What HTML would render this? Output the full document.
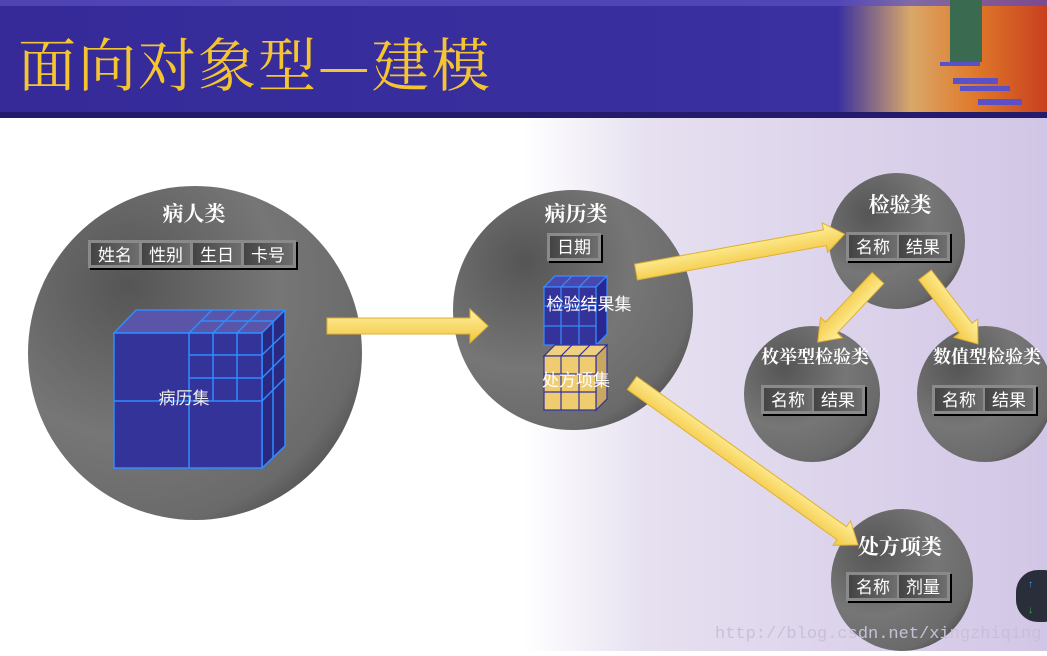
<!DOCTYPE html>
<html><head><meta charset="utf-8"><style>
body{margin:0;width:1047px;height:651px;overflow:hidden;font-family:"Liberation Serif","Noto Serif CJK SC",serif}
</style></head><body>
<svg width="1047" height="651" viewBox="0 0 1047 651" xmlns="http://www.w3.org/2000/svg">
<defs>
<linearGradient id="bg" x1="0" x2="1" y1="0" y2="0">
<stop offset="0" stop-color="#fff"/><stop offset="0.5" stop-color="#fff"/><stop offset="0.62" stop-color="#e6e0f0"/><stop offset="1" stop-color="#d2c6e6"/></linearGradient>
<radialGradient id="cg" cx="0.3" cy="0.3" r="0.9">
<stop offset="0" stop-color="#555"/><stop offset="0.5" stop-color="#767676"/><stop offset="0.8" stop-color="#6a6a6a"/><stop offset="1" stop-color="#3a3a3a"/></radialGradient>
<linearGradient id="hd" x1="0" x2="1"><stop offset="0" stop-color="#352a98"/><stop offset="0.8" stop-color="#3a30a0"/><stop offset="0.87" stop-color="#d9a86a"/><stop offset="0.93" stop-color="#e07a2a"/><stop offset="1" stop-color="#c84020"/></linearGradient>
<linearGradient id="cell" x1="0" x2="1"><stop offset="0" stop-color="#444"/><stop offset="1" stop-color="#6e6e6e"/></linearGradient>
<linearGradient id="ar" x1="0" x2="0" y1="0" y2="1"><stop offset="0" stop-color="#fff2a0"/><stop offset="1" stop-color="#f2c640"/></linearGradient>
</defs>
<rect width="1047" height="651" fill="url(#bg)"/>
<rect width="1047" height="118" fill="url(#hd)"/>
<rect y="0" width="1047" height="6" fill="#5a50c0" opacity="0.7"/>
<rect y="112" width="1047" height="6" fill="#241c6a"/>
<rect x="950" y="0" width="32" height="62" fill="#3a6a50"/>
<rect x="940" y="62" width="40" height="4" fill="#5a50c8"/>
<rect x="953" y="78" width="45" height="6" fill="#5a50c8"/>
<rect x="960" y="86" width="50" height="5" fill="#5a50c8"/>
<rect x="978" y="99" width="44" height="6" fill="#5a50c8"/>
<text x="18" y="86" font-size="58" letter-spacing="2" fill="#f5c531" font-family="'Noto Serif CJK SC',serif">面向对象型—建模</text>

<g fill="url(#cg)">
<circle cx="195" cy="353" r="167"/>
<circle cx="573" cy="310" r="120"/>
<circle cx="897" cy="241" r="68"/>
<circle cx="812" cy="394" r="68"/>
<circle cx="985" cy="394" r="68"/>
<circle cx="902" cy="580" r="71"/>
</g>

<g fill="#fff" font-weight="bold" font-size="21" text-anchor="middle">
<text x="194" y="221">病人类</text>
<text x="576" y="221">病历类</text>
<text x="900" y="212">检验类</text>
<text x="815" y="363" font-size="18">枚举型检验类</text>
<text x="987" y="363" font-size="18">数值型检验类</text>
<text x="900" y="554">处方项类</text>
</g>

<g font-size="17" fill="#fff" text-anchor="middle" font-family="'Liberation Sans','Noto Sans CJK SC',sans-serif">
<rect x="90" y="242" width="208" height="28" fill="#000"/>
<rect x="88" y="240" width="208" height="28" fill="#8a8a8a"/>
<rect x="91" y="243" width="48" height="22" fill="url(#cell)"/><rect x="142" y="243" width="48" height="22" fill="url(#cell)"/><rect x="193" y="243" width="48" height="22" fill="url(#cell)"/><rect x="244" y="243" width="49" height="22" fill="url(#cell)"/>
<text x="115" y="261">姓名</text><text x="166" y="261">性别</text><text x="217" y="261">生日</text><text x="268" y="261">卡号</text>

<rect x="549" y="235" width="54" height="28" fill="#000"/>
<rect x="547" y="233" width="54" height="28" fill="#8a8a8a"/>
<rect x="550" y="236" width="48" height="22" fill="url(#cell)"/>
<text x="574" y="253">日期</text>

<g transform="translate(846,232)"><rect x="2" y="2" width="104" height="29" fill="#000"/><rect width="104" height="29" fill="#8a8a8a"/><rect x="3" y="3" width="48" height="23" fill="url(#cell)"/><rect x="53" y="3" width="48" height="23" fill="url(#cell)"/><text x="27" y="21">名称</text><text x="77" y="21">结果</text></g>
<g transform="translate(761,385)"><rect x="2" y="2" width="104" height="29" fill="#000"/><rect width="104" height="29" fill="#8a8a8a"/><rect x="3" y="3" width="48" height="23" fill="url(#cell)"/><rect x="53" y="3" width="48" height="23" fill="url(#cell)"/><text x="27" y="21">名称</text><text x="77" y="21">结果</text></g>
<g transform="translate(932,385)"><rect x="2" y="2" width="104" height="29" fill="#000"/><rect width="104" height="29" fill="#8a8a8a"/><rect x="3" y="3" width="48" height="23" fill="url(#cell)"/><rect x="53" y="3" width="48" height="23" fill="url(#cell)"/><text x="27" y="21">名称</text><text x="77" y="21">结果</text></g>
<g transform="translate(846,572)"><rect x="2" y="2" width="104" height="29" fill="#000"/><rect width="104" height="29" fill="#8a8a8a"/><rect x="3" y="3" width="48" height="23" fill="url(#cell)"/><rect x="53" y="3" width="48" height="23" fill="url(#cell)"/><text x="27" y="21">名称</text><text x="77" y="21">剂量</text></g>
</g>

<g stroke="#2f8cff" stroke-width="1.5">
<polygon points="114,333 136,310 285,310 262,333" fill="#5a55a8"/>
<polygon points="262,333 285,310 285,446 262,468" fill="#2a2880"/>
<rect x="114" y="333" width="148" height="135" fill="#333399"/>
<line x1="114" y1="401" x2="262" y2="401"/><line x1="189" y1="333" x2="189" y2="468"/>
<line x1="189" y1="333" x2="212" y2="310" /><line x1="213" y1="333" x2="236" y2="310"/><line x1="237" y1="333" x2="260" y2="310"/>
<line x1="201" y1="321" x2="273" y2="321"/>
<line x1="213" y1="333" x2="213" y2="401"/><line x1="237" y1="333" x2="237" y2="401"/>
<line x1="189" y1="355" x2="262" y2="355"/><line x1="189" y1="378" x2="262" y2="378"/>
<line x1="262" y1="355" x2="285" y2="333"/><line x1="262" y1="378" x2="285" y2="355"/><line x1="262" y1="401" x2="285" y2="378"/>
<line x1="273" y1="321" x2="273" y2="457"/>
</g>
<text x="184" y="404" font-size="17" fill="#eee" text-anchor="middle" font-family="'Liberation Sans','Noto Sans CJK SC',sans-serif">病历集</text>

<g stroke="#3a8cff" stroke-width="1.2">
<polygon points="544,287 555,276 607,276 596,287" fill="#4a48b0"/>
<polygon points="596,287 607,276 607,334 596,345" fill="#2a2890"/>
<rect x="544" y="287" width="52" height="58" fill="#333399"/>
<line x1="561" y1="287" x2="561" y2="345"/><line x1="579" y1="287" x2="579" y2="345"/>
<line x1="544" y1="306" x2="596" y2="306"/><line x1="544" y1="326" x2="596" y2="326"/>
<line x1="561" y1="287" x2="572" y2="276"/><line x1="579" y1="287" x2="590" y2="276"/>
</g>
<g stroke="#3030a0" stroke-width="1.2">
<polygon points="544,356 555,345 607,345 596,356" fill="#f0d080"/>
<polygon points="596,356 607,345 607,399 596,410" fill="#c8a860"/>
<rect x="544" y="356" width="52" height="54" fill="#f0cc70"/>
<line x1="561" y1="356" x2="561" y2="410"/><line x1="579" y1="356" x2="579" y2="410"/>
<line x1="544" y1="374" x2="596" y2="374"/><line x1="544" y1="392" x2="596" y2="392"/>
<line x1="561" y1="356" x2="572" y2="345"/><line x1="579" y1="356" x2="590" y2="345"/>
</g>
<g font-size="17" fill="#fff" text-anchor="middle" font-family="'Liberation Sans','Noto Sans CJK SC',sans-serif">
<text x="589" y="310">检验结果集</text>
<text x="576" y="386">处方项集</text>
</g>

<g fill="url(#ar)" stroke="#e0b030" stroke-width="1">
<polygon transform="translate(327,326)" points="0,-8 143,-8 143,-17 161,0 143,17 143,8 0,8"/>
<polygon transform="translate(636,272) rotate(-10.3)" points="0,-8 192,-8 192,-15 212,0 192,15 192,8 0,8"/>
<polygon transform="translate(878,278) rotate(133.2)" points="0,-8 68,-8 68,-15 88,0 68,15 68,8 0,8"/>
<polygon transform="translate(925,275) rotate(52.5)" points="0,-8 67,-8 67,-15 87,0 67,15 67,8 0,8"/>
<polygon transform="translate(632,383) rotate(35.6)" points="0,-8 258,-8 258,-15 278,0 258,15 258,8 0,8"/>
</g>

<text x="715" y="638" font-size="17" fill="#c8c0d8" font-family="'Liberation Mono',monospace">http://blog.csdn.net/xingzhiqing</text>
<rect x="1016" y="570" width="50" height="52" rx="22" fill="#2a2e3a"/>
<text x="1028" y="587" font-size="10" fill="#3aa0ff">↑</text>
<text x="1028" y="613" font-size="10" fill="#30c040">↓</text>
</svg>
</body></html>
